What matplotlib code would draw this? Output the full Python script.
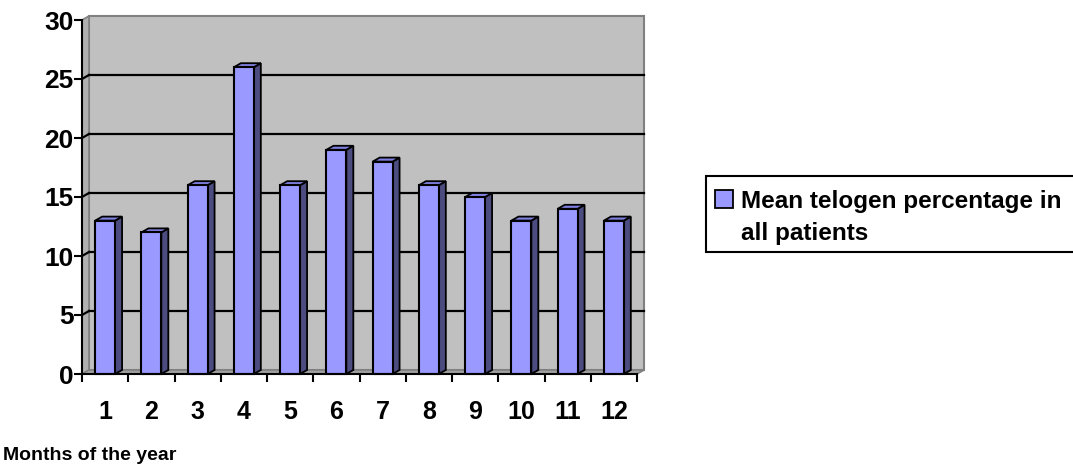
import matplotlib
matplotlib.use('Agg')
import matplotlib.pyplot as plt
from matplotlib.patches import Polygon, Rectangle

months = ['1', '2', '3', '4', '5', '6', '7', '8', '9', '10', '11', '12']
telogen = [13, 12, 16, 26, 16, 19, 18, 16, 15, 13, 14, 13]
series_lines = ['Mean telogen percentage in', 'all patients']
yticks = [0, 5, 10, 15, 20, 25, 30]

plt.rcParams['font.family'] = ['Liberation Sans', 'DejaVu Sans']
plt.rcParams['font.weight'] = 'bold'

W, H = 1073, 472
fig = plt.figure(figsize=(W / 100, H / 100), dpi=100)
# front plane of the 3d box, in pixels
x0, x1, ytop, ybot = 82, 637, 20, 374
ax = fig.add_axes([x0 / W, 1 - ybot / H, (x1 - x0) / W, (ybot - ytop) / H])
n = len(months)
ax.set_xlim(0, n)
ax.set_ylim(0, 30)

# depth offset in data units (7px right, 4px up)
dx = 7 / ((x1 - x0) / n)
dy = 4 / ((ybot - ytop) / 30)

bar_face = '#9999ff'
# back wall
ax.add_patch(Rectangle((dx, dy), n, 30, fc='#c0c0c0', ec='#808080', lw=1.5, zorder=0, clip_on=False))
# left wall
ax.add_patch(Polygon([(0, 0), (dx, dy), (dx, 30 + dy), (0, 30)], closed=True,
                     fc='#b0b0b0', ec='#808080', lw=1.2, zorder=0.5, clip_on=False))
# floor
ax.add_patch(Polygon([(0, 0), (n, 0), (n + dx, dy), (dx, dy)], closed=True,
                     fc='#a0a0a0', ec='#808080', lw=1.2, zorder=0.5, clip_on=False))

for y in yticks[1:-1]:
    ax.plot([dx, n + dx], [y + dy, y + dy], color='black', lw=1.6, zorder=1, clip_on=False)
    ax.plot([0, dx], [y, y + dy], color='black', lw=1.6, zorder=1, clip_on=False)

bw = 0.43
for i, v in enumerate(telogen):
    c = i + 0.5
    l, r = c - bw / 2, c + bw / 2
    ax.add_patch(Polygon([(r, 0), (r + dx, dy), (r + dx, v + dy), (r, v)], closed=True,
                         fc='#4c4c80', ec='black', lw=1.3, zorder=2, clip_on=False))
    ax.add_patch(Polygon([(l, v), (r, v), (r + dx, v + dy), (l + dx, v + dy)], closed=True,
                         fc='#8080e0', ec='black', lw=1.3, zorder=2, clip_on=False))
    ax.add_patch(Rectangle((l, 0), bw, v, fc=bar_face, ec='black', lw=1.5, zorder=3, clip_on=False))

for s in ['top', 'right']:
    ax.spines[s].set_visible(False)
for s in ['left', 'bottom']:
    ax.spines[s].set_linewidth(1.5)
    ax.spines[s].set_zorder(4)

ax.set_yticks(yticks)
ax.set_yticklabels([str(t) for t in yticks], fontsize=19, fontweight='bold')
ax.set_xticks(range(n + 1))
ax.set_xticklabels([])
ax.set_xticks([i + 0.5 for i in range(n)], minor=True)
ax.set_xticklabels(months, minor=True, fontsize=18, fontweight='bold')
ax.tick_params(axis='both', which='major', direction='out', length=6, width=1.5, pad=0)
ax.tick_params(axis='x', which='minor', length=0, pad=19)

fig.text(3 / W, 1 - 456 / H, 'Months of the year', fontsize=14, fontweight='bold', va='center')

# legend box (runs off the right edge like the original)
fig.patches.append(Rectangle((706 / W, 1 - 252 / H), 380 / W, 76 / H, transform=fig.transFigure,
                             fc='white', ec='black', lw=1.5, clip_on=False))
fig.patches.append(Rectangle((715 / W, 1 - 208 / H), 18 / W, 18 / H, transform=fig.transFigure,
                             fc=bar_face, ec='black', lw=1.3))
for k, line in enumerate(series_lines):
    fig.text(741 / W, 1 - (208 + 32 * k) / H, line, fontsize=17.5, fontweight='bold', va='baseline')

fig.savefig('out.png', dpi=100)
